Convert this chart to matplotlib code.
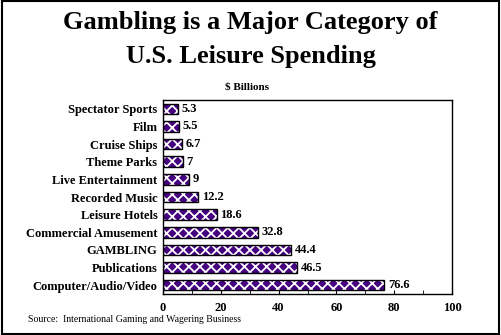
import matplotlib.pyplot as plt
from matplotlib.patches import Rectangle

categories = ["Spectator Sports", "Film", "Cruise Ships", "Theme Parks",
              "Live Entertainment", "Recorded Music", "Leisure Hotels",
              "Commercial Amusement", "GAMBLING", "Publications",
              "Computer/Audio/Video"]
values = [5.3, 5.5, 6.7, 7, 9, 12.2, 18.6, 32.8, 44.4, 46.5, 76.6]
value_labels = ["5.3", "5.5", "6.7", "7", "9", "12.2", "18.6", "32.8", "44.4", "46.5", "76.6"]
x_ticks = [0, 20, 40, 60, 80, 100]

plt.rcParams['font.family'] = ['Liberation Serif', 'DejaVu Serif']
plt.rcParams['hatch.linewidth'] = 1.3

fig = plt.figure(figsize=(5.01, 3.35), dpi=100)
W, H = 501, 335
ax = fig.add_axes([163 / W, 1 - 294 / H, (452 - 163) / W, (294 - 100) / H])

purple = "#44007f"
pos = list(range(len(categories)))
ax.barh(pos, values, height=0.6, color=purple, edgecolor="white",
        hatch="xxx", linewidth=0)
ax.barh(pos, values, height=0.6, facecolor="none", edgecolor="black",
        linewidth=1)

for p, v, lab in zip(pos, values, value_labels):
    ax.text(v + 1.2, p, lab, va="center", ha="left", fontsize=9,
            fontweight="bold")

ax.set_xlim(0, 100)
ax.set_ylim(len(categories) - 0.5, -0.5)
ax.set_yticks(pos)
ax.set_yticklabels(categories, fontsize=9, fontweight="bold")
ax.set_xticks(x_ticks)
ax.set_xticklabels([str(t) for t in x_ticks], fontsize=9, fontweight="bold")
ax.set_xticks(range(0, 101, 10), minor=True)
ax.tick_params(axis="x", which="both", direction="in", length=3, pad=6)
ax.tick_params(axis="y", length=0, pad=4)
for s in ax.spines.values():
    s.set_linewidth(1)

fig.text(0.5, 1 - 23 / H, "Gambling is a Major Category of", ha="center",
         va="center", fontsize=19, fontweight="bold")
fig.text(0.5, 1 - 56 / H, "U.S. Leisure Spending", ha="center",
         va="center", fontsize=19, fontweight="bold")
fig.text(247 / W, 1 - 87 / H, "$ Billions", ha="center", va="center",
         fontsize=8, fontweight="bold")
fig.text(28 / W, 1 - 320 / H, "Source:  International Gaming and Wagering Business",
         ha="left", va="center", fontsize=7)

fig.patches.append(Rectangle((0.003, 0.004), 0.993, 0.992, transform=fig.transFigure,
                             fill=False, edgecolor="black", linewidth=1.5))

fig.savefig("out.png", dpi=100)
